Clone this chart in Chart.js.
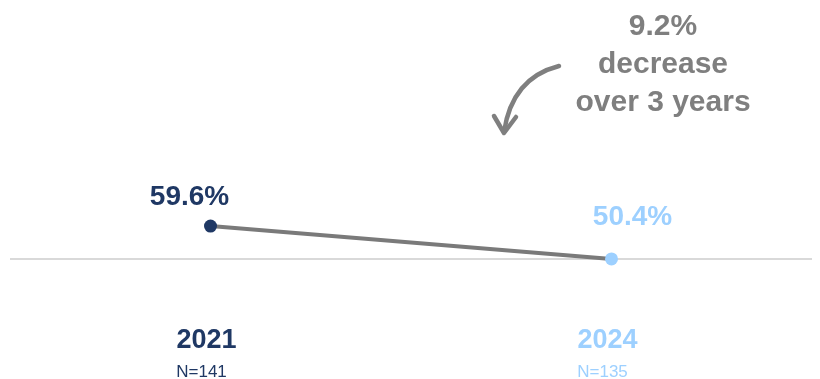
<!DOCTYPE html>
<html>
<head>
<meta charset="utf-8">
<script src="https://cdn.jsdelivr.net/npm/chart.js@4.4.1/dist/chart.umd.min.js"></script>
<style>
  html, body { margin: 0; padding: 0; background: #fff; }
  #chart { display: block; }
</style>
</head>
<body>
<canvas id="chart" width="820" height="379"></canvas>
<script>
const years = ['2021', '2024'];
const sampleSizes = ['N=141', 'N=135'];
const rates = [59.6, 50.4];
const pointColors = ['#1f3864', '#9dd0ff'];
const baselineValue = 50.4;
const calloutLines = ['9.2%', 'decrease', 'over 3 years'];

const FONT = '"Liberation Sans", Arial, sans-serif';
const GREY = '#7f7f7f';

// value labels above each point, category labels under the baseline,
// the reference line and the change callout
const decorations = {
  id: 'decorations',
  beforeDatasetsDraw(chart) {
    const { ctx, chartArea } = chart;
    const y = chart.scales.y.getPixelForValue(baselineValue);
    ctx.save();
    ctx.strokeStyle = '#d9d9d9';
    ctx.lineWidth = 2;
    ctx.beginPath();
    ctx.moveTo(chartArea.left, y);
    ctx.lineTo(chartArea.right, y);
    ctx.stroke();
    ctx.restore();
  },
  afterDatasetsDraw(chart, args, opts) {
    const { ctx } = chart;
    const xs = chart.scales.x;
    const pts = chart.getDatasetMeta(0).data;
    ctx.save();
    ctx.textAlign = 'center';
    ctx.textBaseline = 'alphabetic';

    pts.forEach((p, i) => {
      const off = opts.labelOffsets[i];
      ctx.fillStyle = pointColors[i];
      ctx.font = 'bold 28px ' + FONT;
      ctx.fillText(rates[i].toFixed(1) + '%', p.x + off[0], p.y + off[1]);
    });

    years.forEach((yr, i) => {
      const x = xs.getPixelForValue(i);
      ctx.fillStyle = pointColors[i];
      ctx.font = 'bold 27px ' + FONT;
      ctx.fillText(yr, x - 4, 348);
      ctx.font = '17px ' + FONT;
      ctx.fillText(sampleSizes[i], x - 9, 377);
    });

    // callout text
    ctx.fillStyle = GREY;
    ctx.font = 'bold 30px ' + FONT;
    calloutLines.forEach((t, i) => ctx.fillText(t, 663, 35 + i * 38));

    // curved arrow
    ctx.strokeStyle = GREY;
    ctx.lineWidth = 4.5;
    ctx.lineCap = 'round';
    ctx.lineJoin = 'round';
    ctx.beginPath();
    ctx.moveTo(559, 66);
    ctx.quadraticCurveTo(512, 78, 504, 132);
    ctx.stroke();
    ctx.beginPath();
    ctx.moveTo(494, 116);
    ctx.lineTo(504, 133);
    ctx.lineTo(516, 117);
    ctx.stroke();
    ctx.restore();
  }
};

new Chart(document.getElementById('chart'), {
  type: 'line',
  data: {
    labels: years,
    datasets: [{
      data: rates,
      borderColor: '#7a7a7a',
      borderWidth: 4,
      pointBackgroundColor: pointColors,
      pointBorderColor: pointColors,
      pointRadius: 6.5,
      pointBorderWidth: 0,
      tension: 0,
      clip: false
    }]
  },
  options: {
    responsive: false,
    animation: false,
    events: [],
    layout: { padding: { left: 10, right: 8, top: 189, bottom: 83 } },
    scales: {
      x: { display: false, offset: true },
      y: { display: false, min: 40, max: 70 }
    },
    plugins: {
      legend: { display: false },
      tooltip: { enabled: false },
      decorations: { labelOffsets: [[-21, -21], [21, -34]] }
    }
  },
  plugins: [decorations]
});
</script>
</body>
</html>
